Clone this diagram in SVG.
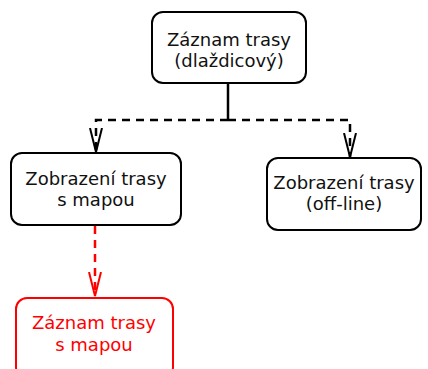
<svg xmlns="http://www.w3.org/2000/svg" width="428" height="369" viewBox="0 0 428 369">
  <style>
    .box { fill: #fff; stroke: #000; stroke-width: 2; }
    .red .box { stroke: #f00; }
    .lbl { font-family: "DejaVu Sans", sans-serif; font-size: 18px; text-anchor: middle; fill: #111; }
    .red .lbl { fill: #f00; }
    .edge { fill: none; stroke: #000; stroke-width: 2.5; }
    .dash { stroke-dasharray: 8 6; }
    .redge { stroke: #f00; }
  </style>
  <defs>
    <marker id="veeBlack" markerUnits="userSpaceOnUse" markerWidth="26" markerHeight="14" refX="24" refY="7" orient="auto" viewBox="0 0 26 14">
      <path d="M0,1 L24,7 L0,13" fill="none" stroke="#000" stroke-width="2"/>
    </marker>
    <marker id="veeRed" markerUnits="userSpaceOnUse" markerWidth="26" markerHeight="14" refX="24" refY="7" orient="auto" viewBox="0 0 26 14">
      <path d="M0,1 L24,7 L0,13" fill="none" stroke="#f00" stroke-width="2"/>
    </marker>
  </defs>

  <g id="connectors">
    <line class="edge" x1="228" y1="83" x2="228" y2="120"/>
    <polyline class="edge dash" points="228,120 96,120 96,152" marker-end="url(#veeBlack)"/>
    <polyline class="edge dash" points="228,120 350,120 350,157" marker-end="url(#veeBlack)"/>
    <line class="edge dash redge" x1="95" y1="226" x2="95" y2="296" marker-end="url(#veeRed)"/>
  </g>

  <g id="zaznam-dlazdicovy">
    <rect class="box" x="152" y="12" width="154" height="71" rx="11"/>
    <text class="lbl" x="229" y="46">Záznam trasy</text>
    <text class="lbl" x="229" y="67">(dlaždicový)</text>
  </g>

  <g id="zobrazeni-s-mapou">
    <rect class="box" x="11" y="153" width="170" height="72" rx="11"/>
    <text class="lbl" x="96" y="185">Zobrazení trasy</text>
    <text class="lbl" x="96" y="206">s mapou</text>
  </g>

  <g id="zobrazeni-offline">
    <rect class="box" x="267" y="158" width="154" height="72" rx="11"/>
    <text class="lbl" x="344" y="189">Zobrazení trasy</text>
    <text class="lbl" x="344" y="210">(off-line)</text>
  </g>

  <g id="zaznam-s-mapou" class="red">
    <rect class="box" x="16" y="298" width="157" height="80" rx="11"/>
    <text class="lbl" x="94" y="329">Záznam trasy</text>
    <text class="lbl" x="94" y="351">s mapou</text>
  </g>
</svg>
